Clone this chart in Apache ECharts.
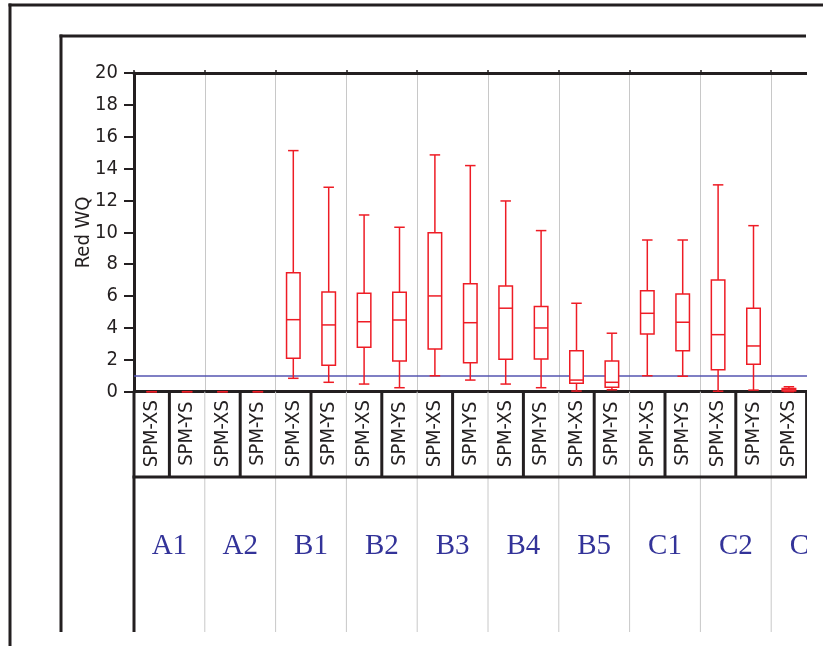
<!DOCTYPE html>
<html>
<head>
<meta charset="utf-8">
<script src="https://cdn.jsdelivr.net/npm/echarts@6/dist/echarts.min.js"></script>
<style>
html,body{margin:0;padding:0;background:#fff;overflow:hidden;}
#chart{width:823px;height:646px;}
</style>
</head>
<body>
<div id="chart"></div>
<script>
// ---- data ----
const groups = ['A1','A2','B1','B2','B3','B4','B5','C1','C2','C3'];
const subcats = ['SPM-XS','SPM-YS','SPM-XS','SPM-YS','SPM-XS','SPM-YS','SPM-XS','SPM-YS','SPM-XS','SPM-YS',
                 'SPM-XS','SPM-YS','SPM-XS','SPM-YS','SPM-XS','SPM-YS','SPM-XS','SPM-YS','SPM-XS','SPM-YS'];
const lowVals    = [0, 0, 0, 0, 0.84, 0.59, 0.48, 0.25, 1.00, 0.73, 0.48, 0.25, 0.04, 0.12, 1.00, 0.97, 0.03, 0.10, 0.00, null];
const q1Vals     = [0, 0, 0, 0, 2.10, 1.66, 2.79, 1.93, 2.68, 1.82, 2.03, 2.05, 0.53, 0.28, 3.62, 2.57, 1.38, 1.72, 0.05, null];
const medianVals = [0, 0, 0, 0, 4.52, 4.19, 4.39, 4.50, 6.01, 4.33, 5.24, 4.00, 0.73, 0.59, 4.92, 4.36, 3.58, 2.87, 0.12, null];
const q3Vals     = [0, 0, 0, 0, 7.47, 6.26, 6.18, 6.24, 9.98, 6.78, 6.64, 5.34, 2.57, 1.93, 6.34, 6.13, 7.01, 5.23, 0.20, null];
const highVals   = [0, 0, 0, 0, 15.13, 12.83, 11.09, 10.32, 14.86, 14.19, 11.97, 10.11, 5.55, 3.67, 9.52, 9.52, 12.98, 10.42, 0.31, null];
const refValue = 1;
const yTickInterval = 2;

// ---- styles ----
const BLACK = '#231f20';
const RED = '#ee1c25';
const NARROW = "'Liberation Sans Narrow','DejaVu Sans Condensed','Liberation Sans',sans-serif";

const boxData = [];
for (let i = 0; i < subcats.length; i++) {
  if (lowVals[i] === null) continue;
  boxData.push([i, lowVals[i], q1Vals[i], medianVals[i], q3Vals[i], highVals[i]]);
}

function renderBox(params, api) {
  const x = api.value(0);
  const pLow = api.coord([x, api.value(1)]);
  const pQ1 = api.coord([x, api.value(2)]);
  const pMed = api.coord([x, api.value(3)]);
  const pQ3 = api.coord([x, api.value(4)]);
  const pHigh = api.coord([x, api.value(5)]);
  const cx = pLow[0];
  const bw = 13.5, cw = 10.5;
  const st = {stroke: RED, lineWidth: 1.5, fill: null};
  const ch = [];
  ch.push({type:'line', shape:{x1:cx, y1:pLow[1], x2:cx, y2:pQ1[1]}, style:st});
  ch.push({type:'line', shape:{x1:cx, y1:pQ3[1], x2:cx, y2:pHigh[1]}, style:st});
  ch.push({type:'line', shape:{x1:cx-cw/2, y1:pLow[1], x2:cx+cw/2, y2:pLow[1]}, style:st});
  ch.push({type:'line', shape:{x1:cx-cw/2, y1:pHigh[1], x2:cx+cw/2, y2:pHigh[1]}, style:st});
  if (api.value(4) > api.value(2)) {
    ch.push({type:'rect', shape:{x:cx-bw/2, y:pQ3[1], width:bw, height:pQ1[1]-pQ3[1]}, style:{stroke:RED, lineWidth:1.5, fill:'#fff'}});
    ch.push({type:'line', shape:{x1:cx-bw/2, y1:pMed[1], x2:cx+bw/2, y2:pMed[1]}, style:st});
  }
  return {type:'group', children: ch};
}

const chart = echarts.init(document.getElementById('chart'), null, {renderer:'canvas'});

const option = {
  animation: false,
  backgroundColor: '#fff',
  grid: {left: 134, top: 73, width: 708, height: 318.7, containLabel: false, outerBoundsMode: 'none'},
  xAxis: [
    {
      type: 'category', data: subcats, position: 'bottom', boundaryGap: true,
      axisLine: {lineStyle: {color: BLACK, width: 3}},
      axisTick: {show: false},
      splitLine: {show: false},
      axisLabel: {interval: 0, rotate: 90, fontSize: 20, fontFamily: NARROW, color: BLACK,
                  margin: 42, align: 'center', verticalAlign: 'middle', hideOverlap: false}
    },
    {
      type: 'category', data: groups, position: 'bottom', boundaryGap: true,
      axisLine: {show: false}, axisTick: {show: false},
      splitLine: {show: true, lineStyle: {color: '#c8c8c8', width: 1}},
      axisLabel: {interval: 0, fontSize: 29, fontFamily: "'Liberation Serif','Times New Roman',serif",
                  color: '#333399', margin: 155, verticalAlign: 'middle'}
    },
    {
      type: 'category', data: groups, position: 'top', boundaryGap: true,
      axisLine: {lineStyle: {color: BLACK, width: 3}},
      axisTick: {show: true, length: 3, lineStyle: {color: BLACK, width: 1.5}},
      axisLabel: {show: false}, splitLine: {show: false}
    }
  ],
  yAxis: {
    type: 'value', min: 0, max: 20, interval: yTickInterval,
    name: 'Red WQ', nameLocation: 'middle', nameGap: 40, nameMoveOverlap: false,
    nameTextStyle: {fontSize: 20, fontFamily: NARROW, color: BLACK},
    axisLine: {show: true, lineStyle: {color: BLACK, width: 3}},
    axisTick: {show: true, length: 10, lineStyle: {color: BLACK, width: 2}},
    axisLabel: {fontSize: 20, fontFamily: NARROW, color: BLACK, margin: 16},
    splitLine: {show: false}
  },
  series: [
    {
      type: 'custom', xAxisIndex: 0, yAxisIndex: 0, renderItem: renderBox,
      encode: {x: 0, y: [1, 2, 3, 4, 5]}, data: boxData, z: 5, clip: false
    },
    {
      type: 'line', xAxisIndex: 0, yAxisIndex: 0, data: [], silent: true,
      markLine: {silent: true, symbol: 'none', label: {show: false},
                 lineStyle: {color: '#5454b0', width: 1.5, type: 'solid'},
                 data: [{yAxis: refValue}]}
    }
  ]
};
chart.setOption(option);

// structural lines derived from the axes
const y0 = chart.convertToPixel({yAxisIndex: 0}, 0);
const px = i => chart.convertToPixel({xAxisIndex: 0}, i);
const xLeft = px(0) - (px(1) - px(0)) / 2;
const labelBottom = 477, plotBottom = 632;
const g = [];
const line = (x1, y1, x2, y2, color, w, z) => ({type: 'line', shape: {x1, y1, x2, y2}, style: {stroke: color, lineWidth: w}, z: z || 10});
for (let i = 1; i < groups.length; i++) {
  const xb = (px(2 * i - 1) + px(2 * i)) / 2;
  g.push(line(xb, y0, xb, plotBottom, '#c8c8c8', 1, 9));
}
for (let i = 0; i < groups.length; i++) {
  const xc = (px(2 * i) + px(2 * i + 1)) / 2;
  g.push(line(xc, y0, xc, labelBottom, BLACK, 3));
}
g.push(line(xLeft - 1.5, labelBottom, 842, labelBottom, BLACK, 3));
g.push(line(xLeft, y0, xLeft, plotBottom, BLACK, 3));
// frames
g.push(line(61, 34.5, 61, plotBottom, BLACK, 3));
g.push(line(59.5, 36, 806, 36, BLACK, 3));
g.push(line(10, 3.5, 10, 646, BLACK, 3));
g.push(line(8.5, 5, 823, 5, BLACK, 3));
// crop right edge
g.push({type: 'rect', shape: {x: 807, y: 9, width: 20, height: 640}, style: {fill: '#fff'}, z: 100});
chart.setOption({graphic: {elements: g}});
</script>
</body>
</html>
